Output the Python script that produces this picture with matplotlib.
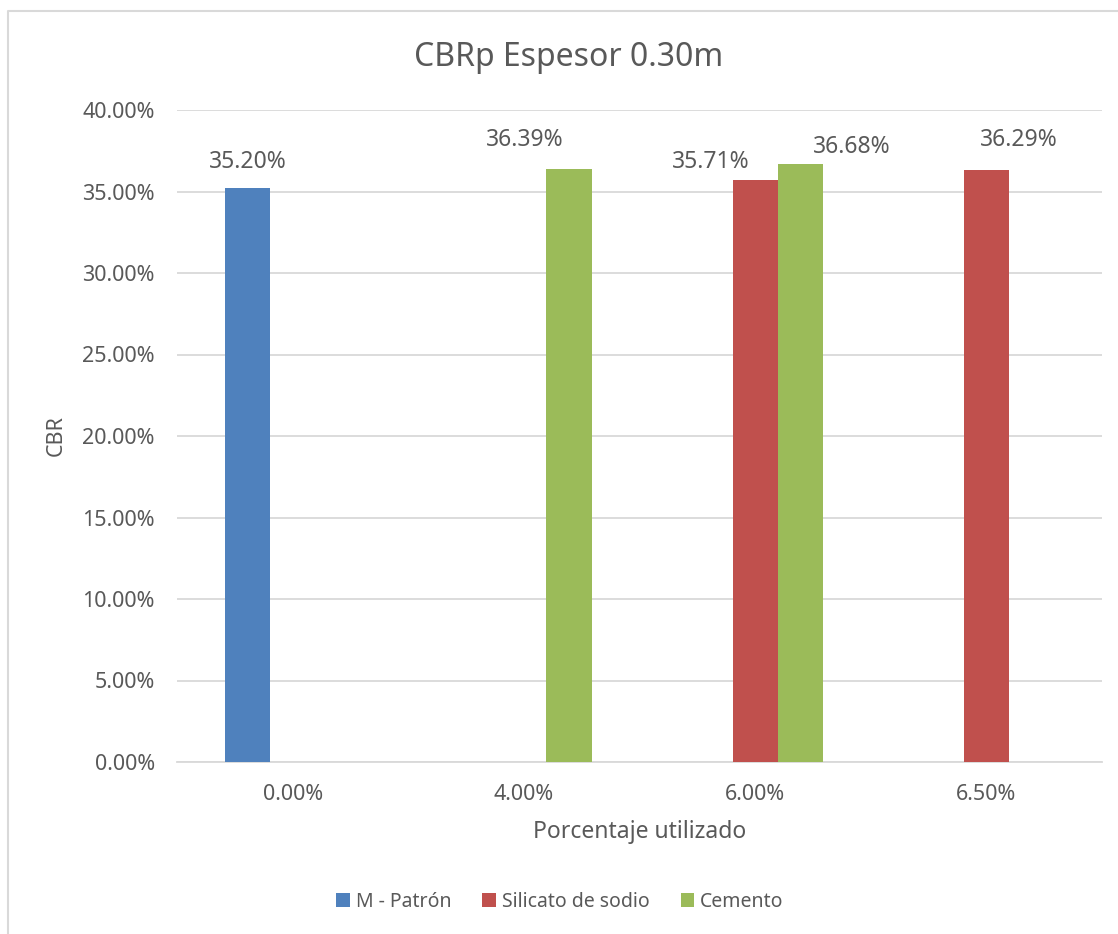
import numpy as np
import matplotlib
matplotlib.use("Agg")
import matplotlib.pyplot as plt
from matplotlib.lines import Line2D
from matplotlib.ticker import FuncFormatter

plt.rcParams['font.family'] = ['Noto Sans', 'DejaVu Sans']

# Data (CBR in %)
categorias = ['0.00%', '4.00%', '6.00%', '6.50%']
patron = [35.20, np.nan, np.nan, np.nan]
silicato = [np.nan, np.nan, 35.71, 36.29]
cemento = [np.nan, 36.39, 36.68, np.nan]

series = ['M - Patrón', 'Silicato de sodio', 'Cemento']
colores = ['#4F81BD', '#C0504D', '#9BBB59']
txt = '#595959'
grid = '#D9D9D9'

# label nudges in pixels (dx, dy above the bar top), keyed by (series, category)
nudge = {(0, 0): (0, 26), (2, 1): (-44, 29), (1, 2): (-44, 18),
         (2, 2): (52, 17), (1, 3): (32, 30)}

fig = plt.figure(figsize=(11.18, 9.34), dpi=100)
fig.patch.set_facecolor('white')
ax = fig.add_axes([177/1118, 1 - 762/934, (1102 - 177)/1118, (762 - 110)/934])

x = np.arange(len(categorias))
w = 0.195
for i, (vals, name, c) in enumerate(zip([patron, silicato, cemento], series, colores)):
    pos = x + (i - 1) * w
    ax.bar(pos, vals, width=w, color=c, label=name, zorder=3)
    for j, (xp, v) in enumerate(zip(pos, vals)):
        if not np.isnan(v):
            dx, dy = nudge.get((i, j), (0, 26))
            ax.annotate(f"{v:.2f}%", (xp, v), xytext=(dx, dy), textcoords='offset pixels',
                        ha='center', va='center', fontsize=16.5, color=txt)

ax.set_xlim(-0.5, 3.5)
ax.set_ylim(0, 40)
ax.set_yticks(np.arange(0, 41, 5))
ax.yaxis.set_major_formatter(FuncFormatter(lambda v, p: f"{v:.2f}%"))
ax.set_xticks(x)
ax.set_xticklabels(categorias)
ax.grid(axis='y', color=grid, linewidth=1.3, zorder=0)
ax.set_axisbelow(True)
for s in ['top', 'right', 'left']:
    ax.spines[s].set_visible(False)
ax.spines['bottom'].set_color(grid)
ax.spines['bottom'].set_linewidth(1.3)
ax.tick_params(axis='both', length=0, labelsize=15.5, labelcolor=txt)
ax.tick_params(axis='y', pad=16)
ax.tick_params(axis='x', pad=16)

ax.set_xlabel('Porcentaje utilizado', fontsize=16.5, color=txt, labelpad=11)
ax.set_ylabel('CBR', fontsize=15.5, color=txt, labelpad=11)

fig.text(569/1118, 1 - 57/934, 'CBRp Espesor 0.30m', ha='center', va='center',
         fontsize=23, color=txt)

fig.legend(loc='center', bbox_to_anchor=(560/1118, 1 - 902/934), ncol=3, frameon=False,
           fontsize=14, labelcolor=txt, handlelength=0.7, handleheight=0.7,
           handletextpad=0.3, columnspacing=1.6)

# chart area border (left and top edges only visible)
fig.add_artist(Line2D([8/1118, 8/1118, 1.0], [0.0, 1 - 11/934, 1 - 11/934],
                      transform=fig.transFigure, color=grid, linewidth=1.5))

fig.savefig('out.png', dpi=100, facecolor='white')
